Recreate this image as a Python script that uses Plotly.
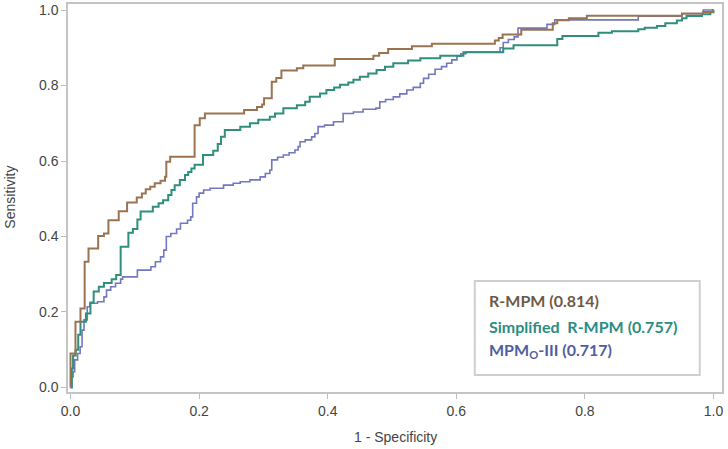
import plotly.graph_objects as go

# ROC curve points (1 - specificity, sensitivity)
rmpm_fpr = [0, 0, 0.0077, 0.0155, 0.022, 0.028, 0.043, 0.052, 0.059, 0.075, 0.088, 0.103, 0.111, 0.117,
            0.124, 0.131, 0.140, 0.147, 0.149, 0.155, 0.193, 0.201, 0.209, 0.270, 0.290, 0.298, 0.301,
            0.313, 0.320, 0.328, 0.352, 0.362, 0.411, 0.471, 0.480, 0.494, 0.531, 0.562, 0.660, 0.666,
            0.672, 0.701, 0.750, 0.757, 0.775, 0.803, 0.951, 0.984, 0.999, 1.0]
rmpm_tpr = [0, 0.09, 0.174, 0.209, 0.333, 0.368, 0.401, 0.408, 0.443, 0.467, 0.49, 0.503, 0.514, 0.525,
            0.532, 0.541, 0.548, 0.558, 0.598, 0.611, 0.695, 0.713, 0.726, 0.735, 0.743, 0.750, 0.766,
            0.81, 0.82, 0.84, 0.846, 0.853, 0.870, 0.879, 0.886, 0.897, 0.904, 0.911, 0.919, 0.926,
            0.935, 0.948, 0.965, 0.973, 0.978, 0.985, 0.991, 0.995, 1.0, 1.0]

simp_fpr = [0, 0.002, 0.004, 0.008, 0.012, 0.0155, 0.024, 0.031, 0.036, 0.044, 0.052, 0.064, 0.071, 0.078,
            0.090, 0.097, 0.104, 0.109, 0.128, 0.137, 0.144, 0.152, 0.157, 0.162, 0.170, 0.178, 0.183,
            0.188, 0.193, 0.206, 0.222, 0.229, 0.234, 0.240, 0.264, 0.279, 0.292, 0.310, 0.318, 0.331,
            0.352, 0.365, 0.372, 0.388, 0.398, 0.410, 0.419, 0.432, 0.44, 0.45, 0.463, 0.476, 0.489,
            0.502, 0.525, 0.544, 0.575, 0.611, 0.673, 0.689, 0.757, 0.765, 0.821, 0.842, 0.883, 0.893,
            0.912, 0.925, 0.943, 0.951, 0.958, 0.982, 0.995, 1.0]
simp_tpr = [0, 0.05, 0.085, 0.10, 0.14, 0.174, 0.196, 0.225, 0.254, 0.267, 0.277, 0.287, 0.298, 0.373,
            0.410, 0.420, 0.445, 0.466, 0.479, 0.488, 0.496, 0.51, 0.523, 0.536, 0.55, 0.563, 0.571,
            0.58, 0.59, 0.616, 0.627, 0.645, 0.664, 0.682, 0.691, 0.70, 0.709, 0.717, 0.726, 0.74,
            0.748, 0.757, 0.77, 0.779, 0.788, 0.795, 0.802, 0.808, 0.815, 0.823, 0.832, 0.841, 0.85,
            0.859, 0.866, 0.872, 0.879, 0.888, 0.898, 0.907, 0.923, 0.931, 0.94, 0.944, 0.949, 0.953,
            0.958, 0.965, 0.972, 0.978, 0.984, 0.989, 0.994, 1.0]

mpm_fpr = [0, 0.002, 0.004, 0.0065, 0.011, 0.015, 0.018, 0.021, 0.026, 0.030, 0.042, 0.052, 0.056, 0.0625,
           0.070, 0.078, 0.081, 0.104, 0.125, 0.132, 0.140, 0.145, 0.149, 0.156, 0.165, 0.171, 0.182,
           0.187, 0.190, 0.196, 0.200, 0.207, 0.217, 0.238, 0.253, 0.264, 0.279, 0.295, 0.303, 0.310,
           0.313, 0.322, 0.331, 0.340, 0.349, 0.354, 0.357, 0.365, 0.375, 0.380, 0.385, 0.395, 0.409,
           0.424, 0.440, 0.455, 0.475, 0.481, 0.49, 0.502, 0.512, 0.523, 0.533, 0.544, 0.549, 0.557,
           0.567, 0.577, 0.585, 0.593, 0.601, 0.607, 0.615, 0.668, 0.673, 0.681, 0.690, 0.696, 0.741,
           0.753, 0.883, 0.951, 0.984, 1.0]
mpm_tpr = [0, 0.028, 0.042, 0.073, 0.09, 0.108, 0.152, 0.179, 0.214, 0.223, 0.227, 0.24, 0.258, 0.267,
           0.276, 0.287, 0.293, 0.311, 0.32, 0.333, 0.346, 0.364, 0.40, 0.408, 0.42, 0.435, 0.443,
           0.452, 0.488, 0.505, 0.515, 0.523, 0.528, 0.536, 0.541, 0.545, 0.55, 0.558, 0.567, 0.576,
           0.603, 0.61, 0.616, 0.622, 0.629, 0.638, 0.651, 0.656, 0.664, 0.673, 0.691, 0.695, 0.704,
           0.726, 0.73, 0.737, 0.74, 0.757, 0.763, 0.77, 0.778, 0.788, 0.795, 0.806, 0.819, 0.83,
           0.843, 0.85, 0.859, 0.868, 0.878, 0.884, 0.889, 0.9, 0.914, 0.922, 0.929, 0.952, 0.962,
           0.974, 0.984, 0.99, 1.0, 1.0]

tick_vals = [0.0, 0.2, 0.4, 0.6, 0.8, 1.0]
tick_text = ["0.0", "0.2", "0.4", "0.6", "0.8", "1.0"]

legend_labels = ["R-MPM (0.814)", "Simplified&nbsp;&nbsp;R-MPM (0.757)", "MPM<sub>O</sub>-III (0.717)"]
line_colors = ["#9a7450", "#2f8f7c", "#7278bd"]
text_colors = ["#6e5a44", "#2c8c84", "#4f5ea0"]

fig = go.Figure()
fig.add_trace(go.Scatter(x=mpm_fpr, y=mpm_tpr, mode="lines", line=dict(color=line_colors[2], width=1.6, shape="hv")))
fig.add_trace(go.Scatter(x=simp_fpr, y=simp_tpr, mode="lines", line=dict(color=line_colors[1], width=2, shape="hv")))
fig.add_trace(go.Scatter(x=rmpm_fpr, y=rmpm_tpr, mode="lines", line=dict(color=line_colors[0], width=2, shape="hv")))

axis_font = dict(family="Liberation Sans Narrow, Arial Narrow, Liberation Sans, sans-serif", size=14, color="#444444")
fig.update_layout(
    width=728, height=449,
    margin=dict(l=68, r=6, t=4, b=57),
    paper_bgcolor="white", plot_bgcolor="white",
    showlegend=False,
    font=axis_font,
    xaxis=dict(range=[-0.0039, 1.0132], tickvals=tick_vals, ticktext=tick_text, showgrid=False, zeroline=False,
               showline=True, mirror=True, linecolor="#c4c4c4", linewidth=1.5, ticks="outside", ticklen=5,
               tickcolor="#bdbdbd", tickfont=axis_font, automargin=False),
    yaxis=dict(range=[-0.012, 1.016], tickvals=tick_vals, ticktext=tick_text, showgrid=False, zeroline=False,
               showline=True, mirror=True, linecolor="#c4c4c4", linewidth=1.5, ticks="outside", ticklen=5,
               tickcolor="#bdbdbd", tickfont=axis_font, automargin=False),
)

# axis titles
fig.add_annotation(xref="paper", yref="paper", x=0.5, y=-0.115, xanchor="center", yanchor="middle",
                   text="1 - Specificity", showarrow=False, font=axis_font)
fig.add_annotation(xref="paper", yref="paper", x=-0.089, y=0.503, xanchor="center", yanchor="middle",
                   text="Sensitivity", textangle=-90, showarrow=False, font=axis_font)

# legend box
fig.add_shape(type="rect", xref="paper", yref="paper", x0=0.622, x1=0.966, y0=0.044, y1=0.286,
              line=dict(color="#cfcfcf", width=2), fillcolor="white", layer="above")
ys = [0.237, 0.170, 0.106]
for lbl, col, yy in zip(legend_labels, text_colors, ys):
    fig.add_annotation(xref="paper", yref="paper", x=0.640, y=yy, xanchor="left", yanchor="middle",
                       text="<b>" + lbl + "</b>", showarrow=False,
                       font=dict(family="Lato, Open Sans, sans-serif", size=16, color=col))

fig.write_html("out.html", config={"displayModeBar": False},
               post_script="document.body.style.margin='0';document.body.style.overflow='hidden';")
